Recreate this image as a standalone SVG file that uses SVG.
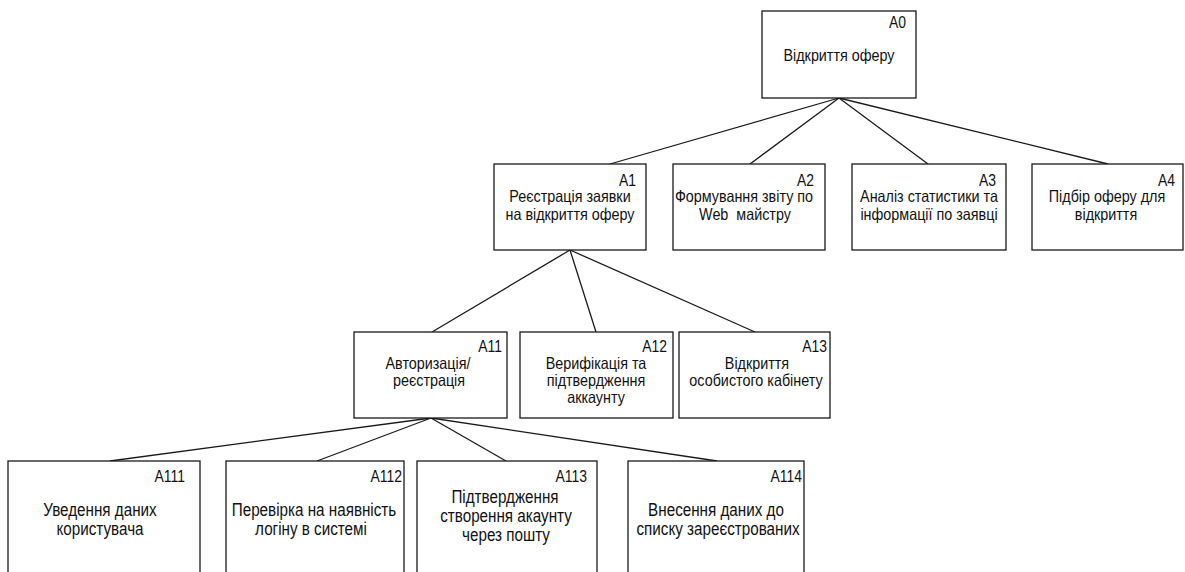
<svg xmlns="http://www.w3.org/2000/svg" width="1185" height="572" viewBox="0 0 1185 572">
  <style>
    .box { fill: #ffffff; stroke: #1a1a1a; stroke-width: 1.3; }
    .link { fill: none; stroke: #1a1a1a; stroke-width: 1.3; }
    text { font-family: "Liberation Sans", Arial, sans-serif; fill: #111; }
    .code { font-size: 16px; text-anchor: end; }
    .txt { font-size: 16.5px; text-anchor: middle; }
    .txt-lg { font-size: 17.5px; text-anchor: middle; }
  </style>
  <rect width="1185" height="572" fill="#ffffff"/>

  <!-- decomposition links -->
  <g id="connectors">
    <line class="link" x1="839" y1="98" x2="610" y2="164"/>
    <line class="link" x1="839" y1="98" x2="750" y2="164"/>
    <line class="link" x1="839" y1="98" x2="928" y2="164"/>
    <line class="link" x1="839" y1="98" x2="1108" y2="164"/>
    <line class="link" x1="570" y1="250" x2="432" y2="332"/>
    <line class="link" x1="570" y1="250" x2="596" y2="332"/>
    <line class="link" x1="570" y1="250" x2="755" y2="332"/>
    <line class="link" x1="431" y1="418" x2="110" y2="461"/>
    <line class="link" x1="431" y1="418" x2="317" y2="461"/>
    <line class="link" x1="431" y1="418" x2="506" y2="461"/>
    <line class="link" x1="431" y1="418" x2="717" y2="461"/>
  </g>

  <!-- all captions use a slightly condensed face: scale(0.87 1) -->
  <g id="A0">
    <rect class="box" x="762" y="11" width="154" height="87"/>
    <text class="code" transform="translate(906 28) scale(0.87 1)">A0</text>
    <text class="txt" transform="translate(839 61) scale(0.87 1)">Відкриття оферу</text>
  </g>

  <g id="A1">
    <rect class="box" x="494" y="164" width="152" height="86"/>
    <text class="code" transform="translate(636 186) scale(0.87 1)">A1</text>
    <text class="txt" transform="translate(570 202) scale(0.87 1)">Реєстрація заявки</text>
    <text class="txt" transform="translate(570 220) scale(0.87 1)">на відкриття оферу</text>
  </g>

  <g id="A2">
    <rect class="box" x="673" y="164" width="152" height="86"/>
    <text class="code" transform="translate(814 186) scale(0.87 1)">A2</text>
    <text class="txt" transform="translate(744 202) scale(0.87 1)">Формування звіту по</text>
    <text class="txt" transform="translate(745 220) scale(0.87 1)" xml:space="preserve">Web  майстру</text>
  </g>

  <g id="A3">
    <rect class="box" x="852" y="164" width="154" height="86"/>
    <text class="code" transform="translate(996 186) scale(0.87 1)">A3</text>
    <text class="txt" transform="translate(929 202) scale(0.87 1)">Аналіз статистики та</text>
    <text class="txt" transform="translate(929 220) scale(0.87 1)">інформації по заявці</text>
  </g>

  <g id="A4">
    <rect class="box" x="1032" y="164" width="151" height="86"/>
    <text class="code" transform="translate(1175 186) scale(0.87 1)">A4</text>
    <text class="txt" transform="translate(1107 202) scale(0.87 1)">Підбір оферу для</text>
    <text class="txt" transform="translate(1106 220) scale(0.87 1)">відкриття</text>
  </g>

  <g id="A11">
    <rect class="box" x="354" y="332" width="153" height="86"/>
    <text class="code" transform="translate(502 352) scale(0.87 1)">A11</text>
    <text class="txt" transform="translate(428 369) scale(0.87 1)">Авторизація/</text>
    <text class="txt" transform="translate(429 386) scale(0.87 1)">реєстрація</text>
  </g>

  <g id="A12">
    <rect class="box" x="520" y="332" width="153" height="86"/>
    <text class="code" transform="translate(667 352) scale(0.87 1)">A12</text>
    <text class="txt" transform="translate(596 369) scale(0.87 1)">Верифікація та</text>
    <text class="txt" transform="translate(596 386) scale(0.87 1)">підтвердження</text>
    <text class="txt" transform="translate(596 403) scale(0.87 1)">аккаунту</text>
  </g>

  <g id="A13">
    <rect class="box" x="679" y="332" width="151" height="86"/>
    <text class="code" transform="translate(827 352) scale(0.87 1)">A13</text>
    <text class="txt" transform="translate(757 369) scale(0.87 1)">Відкриття</text>
    <text class="txt" transform="translate(756 386) scale(0.87 1)">особистого кабінету</text>
  </g>

  <g id="A111">
    <rect class="box" x="8" y="461" width="192" height="130"/>
    <text class="code" transform="translate(185 482) scale(0.87 1)">A111</text>
    <text class="txt-lg" transform="translate(100 516) scale(0.87 1)">Уведення даних</text>
    <text class="txt-lg" transform="translate(100 535) scale(0.87 1)">користувача</text>
  </g>

  <g id="A112">
    <rect class="box" x="226" y="461" width="178" height="130"/>
    <text class="code" transform="translate(402 482) scale(0.87 1)">A112</text>
    <text class="txt-lg" transform="translate(314 516) scale(0.87 1)">Перевірка на наявність</text>
    <text class="txt-lg" transform="translate(311 535) scale(0.87 1)">логіну в системі</text>
  </g>

  <g id="A113">
    <rect class="box" x="417" y="461" width="180" height="130"/>
    <text class="code" transform="translate(587 482) scale(0.87 1)">A113</text>
    <text class="txt-lg" transform="translate(505 503) scale(0.87 1)">Підтвердження</text>
    <text class="txt-lg" transform="translate(506 522) scale(0.87 1)">створення акаунту</text>
    <text class="txt-lg" transform="translate(506 541) scale(0.87 1)">через пошту</text>
  </g>

  <g id="A114">
    <rect class="box" x="628" y="461" width="176" height="130"/>
    <text class="code" transform="translate(802 482) scale(0.87 1)">A114</text>
    <text class="txt-lg" transform="translate(716 516) scale(0.87 1)">Внесення даних до</text>
    <text class="txt-lg" transform="translate(718 535) scale(0.87 1)">списку зареєстрованих</text>
  </g>
</svg>
